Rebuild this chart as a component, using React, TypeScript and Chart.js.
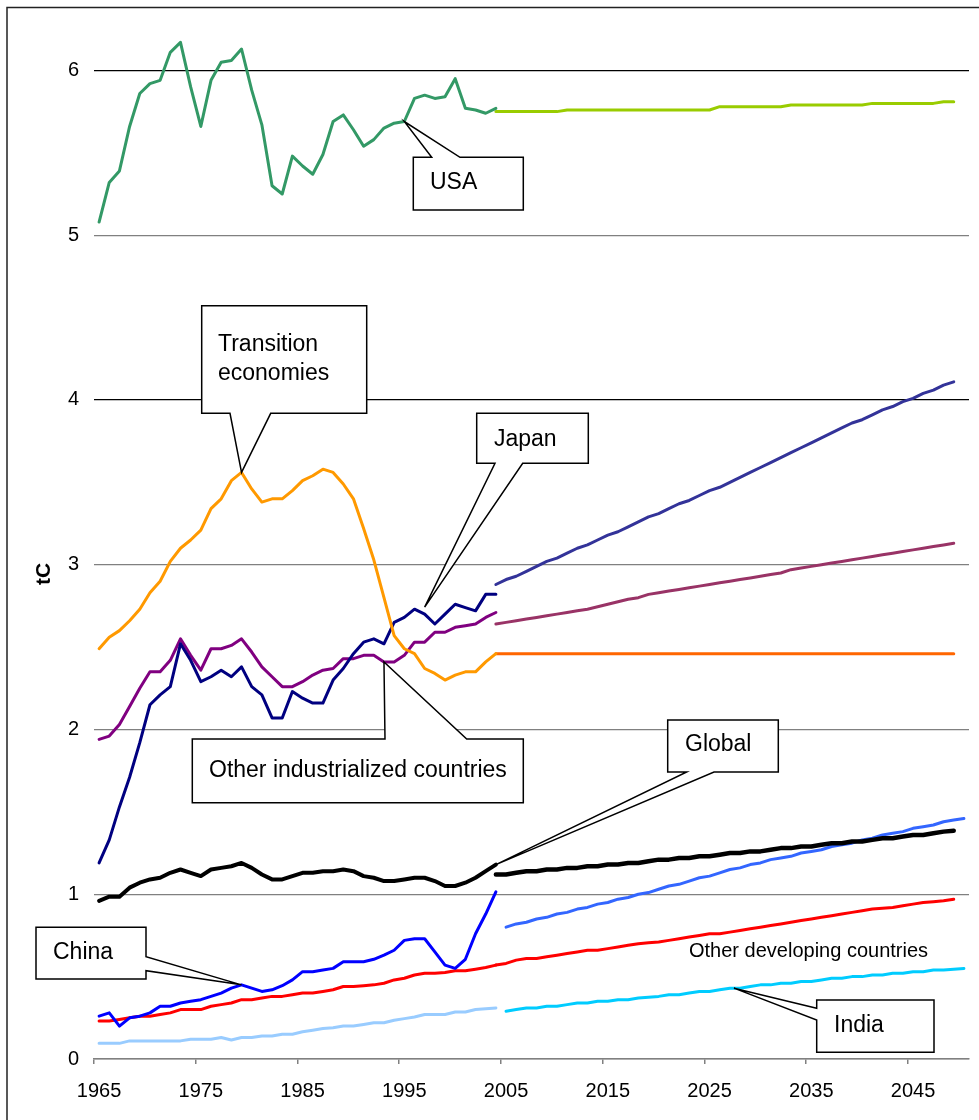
import React, { useEffect, useRef } from 'react';
import { Chart, registerables } from 'chart.js';

Chart.register(...registerables);

// ---------- categories & ticks ----------
const YEARS = [
  '1965', '1966', '1967', '1968', '1969', '1970', '1971', '1972', '1973', '1974',
  '1975', '1976', '1977', '1978', '1979', '1980', '1981', '1982', '1983', '1984',
  '1985', '1986', '1987', '1988', '1989', '1990', '1991', '1992', '1993', '1994',
  '1995', '1996', '1997', '1998', '1999', '2000', '2001', '2002', '2003', '2004',
  '2005', '2006', '2007', '2008', '2009', '2010', '2011', '2012', '2013', '2014',
  '2015', '2016', '2017', '2018', '2019', '2020', '2021', '2022', '2023', '2024',
  '2025', '2026', '2027', '2028', '2029', '2030', '2031', '2032', '2033', '2034',
  '2035', '2036', '2037', '2038', '2039', '2040', '2041', '2042', '2043', '2044',
  '2045', '2046', '2047', '2048', '2049', '2050',
];
const X_TICK_LABELS = ['1965', '1975', '1985', '1995', '2005', '2015', '2025', '2035', '2045'];
const Y_TICKS = [0, 1, 2, 3, 4, 5, 6];
const Y_TITLE = 'tC';

// ---------- historical series, 1965-2004 ----------
const USA_HIST = [
  5.08, 5.32, 5.39, 5.66, 5.86, 5.92, 5.94, 6.11, 6.17, 5.90,
  5.66, 5.94, 6.05, 6.06, 6.13, 5.88, 5.67, 5.30, 5.25, 5.48,
  5.42, 5.37, 5.49, 5.69, 5.73, 5.64, 5.54, 5.58, 5.65, 5.68,
  5.69, 5.83, 5.85, 5.83, 5.84, 5.95, 5.77, 5.76, 5.74, 5.77,
];
const TRANSITION_HIST = [
  2.49, 2.56, 2.60, 2.66, 2.73, 2.83, 2.90, 3.02, 3.10, 3.15,
  3.21, 3.34, 3.40, 3.51, 3.56, 3.46, 3.38, 3.40, 3.40, 3.45,
  3.51, 3.54, 3.58, 3.56, 3.49, 3.40, 3.22, 3.03, 2.80, 2.57,
  2.49, 2.46, 2.37, 2.34, 2.30, 2.33, 2.35, 2.35, 2.41, 2.46,
];
const JAPAN_HIST = [
  1.19, 1.33, 1.53, 1.71, 1.92, 2.15, 2.21, 2.26, 2.52, 2.42,
  2.29, 2.32, 2.36, 2.32, 2.38, 2.26, 2.21, 2.07, 2.07, 2.23,
  2.19, 2.16, 2.16, 2.30, 2.37, 2.46, 2.53, 2.55, 2.52, 2.65,
  2.68, 2.73, 2.70, 2.64, 2.70, 2.76, 2.74, 2.72, 2.82, 2.82,
];
const OTHER_IND_HIST = [
  1.94, 1.96, 2.03, 2.14, 2.25, 2.35, 2.35, 2.42, 2.55, 2.45,
  2.36, 2.49, 2.49, 2.51, 2.55, 2.47, 2.38, 2.32, 2.26, 2.26,
  2.29, 2.33, 2.36, 2.37, 2.43, 2.43, 2.45, 2.45, 2.41, 2.41,
  2.45, 2.53, 2.53, 2.59, 2.59, 2.62, 2.63, 2.64, 2.68, 2.71,
];
const GLOBAL_HIST = [
  0.96, 0.985, 0.985, 1.04, 1.07, 1.09, 1.10, 1.13, 1.15, 1.13,
  1.11, 1.15, 1.16, 1.17, 1.19, 1.16, 1.12, 1.09, 1.09, 1.11,
  1.13, 1.13, 1.14, 1.14, 1.15, 1.14, 1.11, 1.10, 1.08, 1.08,
  1.09, 1.10, 1.10, 1.08, 1.05, 1.05, 1.07, 1.10, 1.14, 1.18,
];
const CHINA_HIST = [
  0.26, 0.28, 0.20, 0.25, 0.26, 0.28, 0.32, 0.32, 0.34, 0.35,
  0.36, 0.38, 0.40, 0.43, 0.45, 0.43, 0.41, 0.42, 0.445, 0.48,
  0.53, 0.53, 0.54, 0.55, 0.59, 0.59, 0.59, 0.605, 0.63, 0.66,
  0.72, 0.73, 0.73, 0.65, 0.57, 0.55, 0.605, 0.76, 0.88, 1.015,
];
const OTHER_DEV_HIST = [
  0.23, 0.23, 0.24, 0.25, 0.26, 0.26, 0.27, 0.28, 0.30, 0.30,
  0.30, 0.32, 0.33, 0.34, 0.36, 0.36, 0.37, 0.38, 0.38, 0.39,
  0.40, 0.40, 0.41, 0.42, 0.44, 0.44, 0.445, 0.45, 0.46, 0.48,
  0.49, 0.51, 0.52, 0.52, 0.525, 0.535, 0.535, 0.545, 0.555, 0.57,
];
const INDIA_HIST = [
  0.095, 0.095, 0.095, 0.11, 0.11, 0.11, 0.11, 0.11, 0.11, 0.12,
  0.12, 0.12, 0.13, 0.115, 0.13, 0.13, 0.14, 0.14, 0.15, 0.15,
  0.165, 0.175, 0.185, 0.19, 0.20, 0.20, 0.21, 0.22, 0.22, 0.235,
  0.245, 0.255, 0.27, 0.27, 0.27, 0.285, 0.285, 0.30, 0.305, 0.31,
];

// ---------- projections, 2004-2049 ----------
const USA_PROJ = [
  5.75, 5.75, 5.75, 5.75, 5.75, 5.75, 5.75, 5.76, 5.76, 5.76,
  5.76, 5.76, 5.76, 5.76, 5.76, 5.76, 5.76, 5.76, 5.76, 5.76,
  5.76, 5.76, 5.78, 5.78, 5.78, 5.78, 5.78, 5.78, 5.78, 5.79,
  5.79, 5.79, 5.79, 5.79, 5.79, 5.79, 5.79, 5.80, 5.80, 5.80,
  5.80, 5.80, 5.80, 5.80, 5.81, 5.81,
];
const TRANSITION_PROJ = [
  2.46, 2.46, 2.46, 2.46, 2.46, 2.46, 2.46, 2.46, 2.46, 2.46,
  2.46, 2.46, 2.46, 2.46, 2.46, 2.46, 2.46, 2.46, 2.46, 2.46,
  2.46, 2.46, 2.46, 2.46, 2.46, 2.46, 2.46, 2.46, 2.46, 2.46,
  2.46, 2.46, 2.46, 2.46, 2.46, 2.46, 2.46, 2.46, 2.46, 2.46,
  2.46, 2.46, 2.46, 2.46, 2.46, 2.46,
];
const JAPAN_PROJ = [
  2.88, 2.91, 2.93, 2.96, 2.99, 3.02, 3.04, 3.07, 3.10, 3.12,
  3.15, 3.18, 3.20, 3.23, 3.26, 3.29, 3.31, 3.34, 3.37, 3.39,
  3.42, 3.45, 3.47, 3.50, 3.53, 3.56, 3.59, 3.62, 3.65, 3.68,
  3.71, 3.74, 3.77, 3.80, 3.83, 3.86, 3.88, 3.91, 3.94, 3.96,
  3.99, 4.01, 4.04, 4.06, 4.09, 4.11,
];
const OTHER_IND_PROJ = [
  2.64, 2.65, 2.66, 2.67, 2.68, 2.69, 2.70, 2.71, 2.72, 2.73,
  2.745, 2.76, 2.775, 2.79, 2.80, 2.82, 2.83, 2.84, 2.85, 2.86,
  2.87, 2.88, 2.89, 2.90, 2.91, 2.92, 2.93, 2.94, 2.95, 2.97,
  2.98, 2.99, 3.00, 3.01, 3.02, 3.03, 3.04, 3.05, 3.06, 3.07,
  3.08, 3.09, 3.10, 3.11, 3.12, 3.13,
];
const GLOBAL_PROJ = [
  1.12, 1.12, 1.13, 1.14, 1.14, 1.15, 1.15, 1.16, 1.16, 1.17,
  1.17, 1.18, 1.18, 1.19, 1.19, 1.20, 1.21, 1.21, 1.22, 1.22,
  1.23, 1.23, 1.24, 1.25, 1.25, 1.26, 1.26, 1.27, 1.28, 1.28,
  1.29, 1.29, 1.30, 1.31, 1.31, 1.32, 1.32, 1.33, 1.34, 1.34,
  1.35, 1.36, 1.36, 1.37, 1.38, 1.385,
];
const OTHER_DEV_PROJ = [
  0.57, 0.58, 0.60, 0.61, 0.61, 0.62, 0.63, 0.64, 0.65, 0.66,
  0.66, 0.67, 0.68, 0.69, 0.70, 0.705, 0.71, 0.72, 0.73, 0.74,
  0.75, 0.76, 0.76, 0.77, 0.78, 0.79, 0.80, 0.81, 0.82, 0.83,
  0.84, 0.85, 0.86, 0.87, 0.88, 0.89, 0.90, 0.91, 0.915, 0.92,
  0.93, 0.94, 0.95, 0.955, 0.96, 0.97,
];
// ---------- projections, 2005-2050 ----------
const CHINA_PROJ = [
  0.80, 0.82, 0.83, 0.85, 0.86, 0.88, 0.89, 0.91, 0.92, 0.94,
  0.95, 0.97, 0.98, 1.00, 1.01, 1.03, 1.05, 1.06, 1.08, 1.10,
  1.11, 1.13, 1.15, 1.16, 1.18, 1.19, 1.21, 1.22, 1.23, 1.25,
  1.26, 1.27, 1.29, 1.30, 1.31, 1.33, 1.34, 1.36, 1.37, 1.38,
  1.40, 1.41, 1.42, 1.44, 1.45, 1.46,
];
const INDIA_PROJ = [
  0.29, 0.30, 0.31, 0.31, 0.32, 0.32, 0.33, 0.34, 0.34, 0.35,
  0.35, 0.36, 0.36, 0.37, 0.375, 0.38, 0.39, 0.39, 0.40, 0.41,
  0.41, 0.42, 0.43, 0.43, 0.44, 0.45, 0.45, 0.46, 0.46, 0.47,
  0.47, 0.48, 0.49, 0.49, 0.50, 0.50, 0.51, 0.51, 0.52, 0.52,
  0.53, 0.53, 0.54, 0.54, 0.545, 0.55,
];

const HIST_START = '1965';
const PROJ_START_A = '2004';
const PROJ_START_B = '2005';

const FONT = '"Liberation Sans", Arial, Helvetica, sans-serif';

function placeSeries(values: number[], startYear: string): (number | null)[] {
  const start = YEARS.indexOf(startYear);
  return YEARS.map((_, i) => (i >= start && i - start < values.length ? values[i - start] : null));
}

function valueAt(values: number[], startYear: string, year: number): number {
  const rel = year - Number(startYear);
  const i = Math.floor(rel);
  const f = rel - i;
  const a = values[i];
  const b = values[Math.min(i + 1, values.length - 1)];
  return a + (b - a) * f;
}

type Callout = {
  box: [number, number, number, number];
  side: 'top' | 'bottom' | 'left' | 'right';
  base: [[number, number], [number, number]];
  series: number[];
  start: string;
  year: number;
  dy?: number;
  lines: string[];
  textX: number;
  textY: number[];
};

const CALLOUTS: Callout[] = [
  { box: [413.3, 157.3, 110, 52.7], side: 'top', base: [[431.7, 157.3], [460, 157.3]], series: USA_HIST, start: HIST_START, year: 1995, lines: ['USA'], textX: 430, textY: [183] },
  { box: [201.7, 305.7, 165, 107.6], side: 'bottom', base: [[230, 413.3], [270.7, 413.3]], series: TRANSITION_HIST, start: HIST_START, year: 1979, lines: ['Transition', 'economies'], textX: 218, textY: [345, 373.5] },
  { box: [476.7, 413.3, 111.6, 50], side: 'bottom', base: [[495, 463.3], [522.7, 463.3]], series: JAPAN_HIST, start: HIST_START, year: 1997, dy: -7, lines: ['Japan'], textX: 494, textY: [439.5] },
  { box: [192.3, 739, 331, 63.7], side: 'top', base: [[385, 739], [466.7, 739]], series: OTHER_IND_HIST, start: HIST_START, year: 1993, lines: ['Other industrialized countries'], textX: 209, textY: [771] },
  { box: [667.7, 720, 110.6, 52], side: 'bottom', base: [[686.7, 772], [714, 772]], series: GLOBAL_HIST, start: HIST_START, year: 2004, lines: ['Global'], textX: 685, textY: [744.5] },
  { box: [36, 927.3, 110, 51.7], side: 'right', base: [[146, 956.7], [146, 970.7]], series: CHINA_HIST, start: HIST_START, year: 1979, lines: ['China'], textX: 53, textY: [953] },
  { box: [816.7, 1000, 117.3, 52.3], side: 'left', base: [[816.7, 1008.3], [816.7, 1020]], series: INDIA_PROJ, start: PROJ_START_B, year: 2027.4, lines: ['India'], textX: 834, textY: [1026] },
];

const decorPlugin = {
  id: 'decor',
  afterDraw(chart: any) {
    const ctx: CanvasRenderingContext2D = chart.ctx;
    const xs = chart.scales.x;
    const ys = chart.scales.y;
    ctx.save();

    // outer frame
    ctx.strokeStyle = '#222';
    ctx.lineWidth = 1.5;
    ctx.beginPath();
    ctx.moveTo(7, 1120);
    ctx.lineTo(7, 7.5);
    ctx.lineTo(979, 7.5);
    ctx.stroke();

    // y title
    ctx.save();
    ctx.translate(44, 574);
    ctx.rotate(-Math.PI / 2);
    ctx.font = `bold 21px ${FONT}`;
    ctx.fillStyle = '#000';
    ctx.textAlign = 'center';
    ctx.textBaseline = 'middle';
    ctx.fillText(Y_TITLE, 0, 0);
    ctx.restore();

    // free label
    ctx.font = `20px ${FONT}`;
    ctx.fillStyle = '#000';
    ctx.textAlign = 'left';
    ctx.textBaseline = 'middle';
    ctx.fillText('Other developing countries', 689, 951);

    // callouts
    for (const c of CALLOUTS) {
      const idx = YEARS.indexOf(c.start) + (c.year - Number(c.start));
      const ax = xs.getPixelForValue(idx);
      const ay = ys.getPixelForValue(valueAt(c.series, c.start, c.year)) + (c.dy || 0);
      const [bx, by, bw, bh] = c.box;
      const [p1, p2] = c.base;
      ctx.beginPath();
      if (c.side === 'top') {
        ctx.moveTo(bx, by);
        ctx.lineTo(p1[0], p1[1]);
        ctx.lineTo(ax, ay);
        ctx.lineTo(p2[0], p2[1]);
        ctx.lineTo(bx + bw, by);
        ctx.lineTo(bx + bw, by + bh);
        ctx.lineTo(bx, by + bh);
      } else if (c.side === 'bottom') {
        ctx.moveTo(bx, by);
        ctx.lineTo(bx + bw, by);
        ctx.lineTo(bx + bw, by + bh);
        ctx.lineTo(p2[0], p2[1]);
        ctx.lineTo(ax, ay);
        ctx.lineTo(p1[0], p1[1]);
        ctx.lineTo(bx, by + bh);
      } else if (c.side === 'right') {
        ctx.moveTo(bx, by);
        ctx.lineTo(bx + bw, by);
        ctx.lineTo(p1[0], p1[1]);
        ctx.lineTo(ax, ay);
        ctx.lineTo(p2[0], p2[1]);
        ctx.lineTo(bx + bw, by + bh);
        ctx.lineTo(bx, by + bh);
      } else {
        ctx.moveTo(bx, by);
        ctx.lineTo(bx + bw, by);
        ctx.lineTo(bx + bw, by + bh);
        ctx.lineTo(bx, by + bh);
        ctx.lineTo(p2[0], p2[1]);
        ctx.lineTo(ax, ay);
        ctx.lineTo(p1[0], p1[1]);
      }
      ctx.closePath();
      ctx.fillStyle = '#fff';
      ctx.fill();
      ctx.strokeStyle = '#000';
      ctx.lineWidth = 1.5;
      ctx.lineJoin = 'miter';
      ctx.stroke();

      ctx.font = `23px ${FONT}`;
      ctx.fillStyle = '#000';
      ctx.textAlign = 'left';
      ctx.textBaseline = 'middle';
      c.lines.forEach((t, i) => ctx.fillText(t, c.textX, c.textY[i]));
    }
    ctx.restore();
  },
};

function line(label: string, data: (number | null)[], color: string, width: number) {
  return {
    label,
    data,
    borderColor: color,
    backgroundColor: color,
    borderWidth: width,
    pointRadius: 0,
    pointHoverRadius: 0,
    tension: 0,
    fill: false,
    spanGaps: false,
    borderCapStyle: 'round',
    borderJoinStyle: 'round',
  };
}

export default function App() {
  const ref = useRef<HTMLCanvasElement | null>(null);

  useEffect(() => {
    document.body.style.margin = '0';
    document.body.style.overflow = 'hidden';
    const canvas = ref.current;
    if (!canvas) return;
    const chart = new Chart(canvas, {
      type: 'line',
      data: {
        labels: YEARS,
        datasets: [
          line('USA', placeSeries(USA_HIST, HIST_START), '#339966', 3),
          line('USA projection', placeSeries(USA_PROJ, PROJ_START_A), '#99CC00', 3),
          line('Transition economies', placeSeries(TRANSITION_HIST, HIST_START), '#FF9900', 3),
          line('Transition projection', placeSeries(TRANSITION_PROJ, PROJ_START_A), '#FF6600', 3),
          line('Japan', placeSeries(JAPAN_HIST, HIST_START), '#000080', 3),
          line('Japan projection', placeSeries(JAPAN_PROJ, PROJ_START_A), '#333399', 3),
          line('Other industrialized', placeSeries(OTHER_IND_HIST, HIST_START), '#800080', 3),
          line('Other industrialized projection', placeSeries(OTHER_IND_PROJ, PROJ_START_A), '#993366', 3),
          line('Global', placeSeries(GLOBAL_HIST, HIST_START), '#000000', 4),
          line('Global projection', placeSeries(GLOBAL_PROJ, PROJ_START_A), '#000000', 4.5),
          line('China', placeSeries(CHINA_HIST, HIST_START), '#0000FF', 3),
          line('China projection', placeSeries(CHINA_PROJ, PROJ_START_B), '#3366FF', 3),
          line('Other developing', placeSeries(OTHER_DEV_HIST, HIST_START), '#FF0000', 3),
          line('Other developing projection', placeSeries(OTHER_DEV_PROJ, PROJ_START_A), '#FF0000', 3),
          line('India', placeSeries(INDIA_HIST, HIST_START), '#99CCFF', 3),
          line('India projection', placeSeries(INDIA_PROJ, PROJ_START_B), '#00CCFF', 3),
        ] as any,
      },
      options: {
        responsive: false,
        animation: false,
        devicePixelRatio: 1,
        layout: { padding: { left: 0, right: 10, top: 21, bottom: 0 } },
        plugins: {
          legend: { display: false },
          tooltip: { enabled: false },
          title: { display: false },
        },
        scales: {
          x: {
            type: 'category',
            offset: true,
            grid: {
              offset: true,
              drawOnChartArea: false,
              drawTicks: true,
              tickLength: 5,
              lineWidth: 1.5,
              color: (c: any) =>
                typeof c.index === 'number' && X_TICK_LABELS.includes(YEARS[c.index])
                  ? '#808080'
                  : 'rgba(0,0,0,0)',
            },
            border: { display: true, color: '#808080', width: 1.5 },
            ticks: {
              autoSkip: false,
              maxRotation: 0,
              minRotation: 0,
              padding: 15,
              color: '#000',
              font: { family: FONT, size: 20 },
              callback: (_v: any, i: number) => (X_TICK_LABELS.includes(YEARS[i]) ? YEARS[i] : ''),
            },
            afterFit: (s: any) => {
              s.height = 61;
              s.paddingLeft = 0;
              s.paddingRight = 0;
            },
          },
          y: {
            min: 0,
            max: 6.3,
            ticks: {
              stepSize: 1,
              includeBounds: false,
              padding: 15,
              color: '#000',
              font: { family: FONT, size: 20 },
              callback: (v: any) => (Y_TICKS.includes(Number(v)) ? String(v) : ''),
            },
            grid: {
              drawTicks: false,
              lineWidth: 1.2,
              color: (c: any) => (c.tick && (c.tick.value === 4 || c.tick.value === 6) ? '#000' : '#808080'),
            },
            border: { display: false },
            afterFit: (s: any) => {
              s.width = 94;
              s.paddingTop = 0;
              s.paddingBottom = 0;
            },
          },
        },
      } as any,
      plugins: [decorPlugin],
    });
    return () => chart.destroy();
  }, []);

  return (
    <div style={{ width: 979, height: 1120, background: '#fff' }}>
      <canvas ref={ref} width={979} height={1120} style={{ display: 'block' }} />
    </div>
  );
}
